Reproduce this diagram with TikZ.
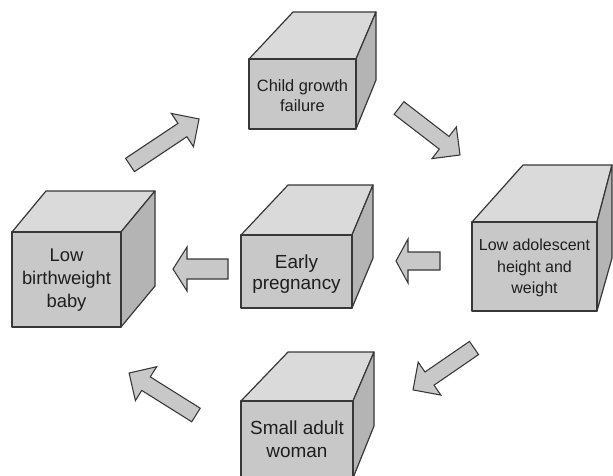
\documentclass[tikz,border=0pt]{standalone}
\usepackage{fontspec}
\setmainfont{Liberation Sans}
\definecolor{facefront}{RGB}{200,200,200}
\definecolor{facetop}{RGB}{218,218,218}
\definecolor{faceside}{RGB}{180,180,180}
\definecolor{edgegray}{RGB}{55,55,55}
\definecolor{textgray}{RGB}{30,30,30}
\tikzset{every picture/.style={line width=0.75pt}}
\tikzset{
  front/.style={draw=edgegray, fill=facefront, line width=0.9pt, line join=round},
  topface/.style={draw=edgegray, fill=facetop, line width=0.9pt, line join=round},
  sideface/.style={draw=edgegray, fill=faceside, line width=0.9pt, line join=round},
  blockarrow/.style={draw=edgegray, fill=facefront, line width=0.8pt, line join=miter},
  boxtext/.style={align=center, text=textgray, inner sep=0pt}
}

\begin{document}
\begin{tikzpicture}[x=0.75pt,y=0.75pt,yscale=-1,xscale=1]
	\clip (0,0) rectangle (613,475);

	%Shape: Cube [id:growth]
	\draw [topface]  (249,59) -- (293,12) -- (376,12) -- (356,59) -- cycle ;
	\draw [sideface] (356,59) -- (376,12) -- (376,80) -- (356,129) -- cycle ;
	\draw [front]    (249,59) rectangle (356,129) ;
	%Shape: Cube [id:birth]
	\draw [topface]  (12,232) -- (46,191) -- (155,191) -- (121,232) -- cycle ;
	\draw [sideface] (121,232) -- (155,191) -- (155,286) -- (121,327) -- cycle ;
	\draw [front]    (12,232) rectangle (121,327) ;
	%Shape: Cube [id:pregnancy]
	\draw [topface]  (241,235) -- (288,185) -- (373,185) -- (352,235) -- cycle ;
	\draw [sideface] (352,235) -- (373,185) -- (373,258) -- (352,308) -- cycle ;
	\draw [front]    (241,235) rectangle (352,308) ;
	%Shape: Cube [id:adolescent]
	\draw [topface]  (472,222) -- (523,165) -- (612,165) -- (597,222) -- cycle ;
	\draw [sideface] (597,222) -- (612,165) -- (612,258) -- (597,311) -- cycle ;
	\draw [front]    (472,222) rectangle (597,311) ;
	%Shape: Cube [id:woman]
	\draw [topface]  (241,401) -- (288,352) -- (374,352) -- (353,401) -- cycle ;
	\draw [sideface] (353,401) -- (374,352) -- (374,426) -- (353,478) -- cycle ;
	\draw [front]    (241,401) rectangle (353,478) ;

	%Shape: Right Arrow [id:toleft1]
	\draw [blockarrow] (228,259) -- (187,259) -- (187,247) -- (173,269) -- (187,291) -- (187,279) -- (228,279) -- cycle ;
	%Shape: Right Arrow [id:toleft2]
	\draw [blockarrow] (440,252) -- (408,252) -- (408,239) -- (396,261) -- (408,283) -- (408,270) -- (440,270) -- cycle ;
	%Shape: Right Arrow [id:upright]
	\begin{scope}[shift={(130,165)}, rotate=-33.7]
	\draw [blockarrow] (0,-8) -- (63,-8) -- (63,-20) -- (83,0) -- (63,20) -- (63,8) -- (0,8) -- cycle ;
	\end{scope}
	%Shape: Right Arrow [id:downright]
	\begin{scope}[shift={(399,108)}, rotate=37.6]
	\draw [blockarrow] (0,-8) -- (57,-8) -- (57,-20) -- (77,0) -- (57,20) -- (57,8) -- (0,8) -- cycle ;
	\end{scope}
	%Shape: Right Arrow [id:downleft]
	\begin{scope}[shift={(474,348)}, rotate=145.5]
	\draw [blockarrow] (0,-8) -- (54,-8) -- (54,-20) -- (74,0) -- (54,20) -- (54,8) -- (0,8) -- cycle ;
	\end{scope}
	%Shape: Right Arrow [id:upleft]
	\begin{scope}[shift={(196,415)}, rotate=-147.9]
	\draw [blockarrow] (0,-8) -- (59,-8) -- (59,-20) -- (79,0) -- (59,20) -- (59,8) -- (0,8) -- cycle ;
	\end{scope}

	% Text Node
	\node [boxtext, font=\fontsize{12.3}{15}\selectfont] (growth) at (302.5,96) {Child growth\\failure};
	% Text Node
	\node [boxtext, font=\fontsize{13.8}{17}\selectfont] (birth) at (66.5,280) {Low\\birthweight\\baby};
	% Text Node
	\node [boxtext, font=\fontsize{14.2}{16}\selectfont] (pregnancy) at (296.5,274) {Early\\pregnancy};
	% Text Node
	\node [boxtext, font=\fontsize{12}{16}\selectfont] (adolescent) at (534.5,268) {Low adolescent\\height and\\weight};
	% Text Node
	\node [boxtext, font=\fontsize{14.2}{17.5}\selectfont] (woman) at (297,439) {Small adult\\woman};

\end{tikzpicture}
\end{document}
